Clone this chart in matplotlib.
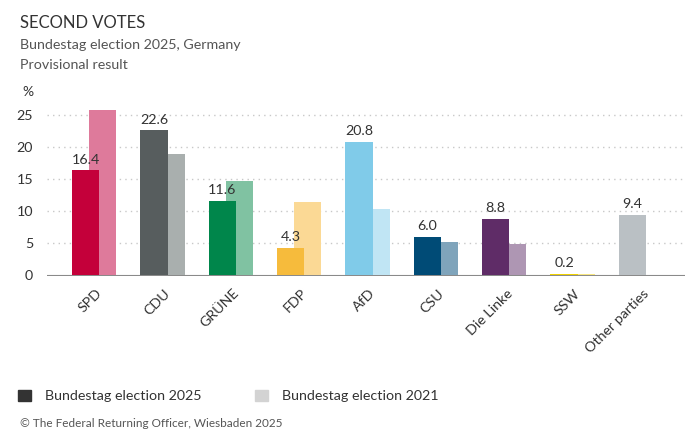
import matplotlib.pyplot as plt
import numpy as np

parties = ["SPD", "CDU", "GRÜNE", "FDP", "AfD", "CSU", "Die Linke", "SSW", "Other parties"]
votes_2025 = [16.4, 22.6, 11.6, 4.3, 20.8, 6.0, 8.8, 0.2, 9.4]
votes_2021 = [25.7, 18.9, 14.7, 11.4, 10.3, 5.2, 4.9, 0.1, np.nan]
colors_2025 = ["#c4003a", "#575d5e", "#00864b", "#f6bb3c", "#80cbe9", "#004b76", "#5f2c67", "#f0d200", "#bac0c4"]
colors_2021 = ["#de7a9b", "#a9afae", "#80c2a2", "#fbd995", "#c0e5f4", "#7fa4bb", "#ae96b3", "#f7e680", "#dcdfe1"]
yticks = [0, 5, 10, 15, 20, 25]

plt.rcParams['font.family'] = ['Lato', 'DejaVu Sans']
fig = plt.figure(figsize=(7, 4.45), dpi=100)
ax = fig.add_axes([47/700, 1 - 276/445, 638/700, 0.3763])

x = np.arange(len(parties))
w = 0.40
off = 0.25
ax.bar(x + off, votes_2021, w, color=colors_2021, zorder=2)
ax.bar(x, votes_2025, w, color=colors_2025, zorder=3)
for xi, v in zip(x, votes_2025):
    ax.text(xi, v + 0.7, f"{v:.1f}", ha='center', va='bottom', fontsize=10.3, color='#333333')

ax.set_xlim(-0.567, 8.77)
ax.set_ylim(-0.15, 26)
ax.set_yticks(yticks)
for t in yticks[1:]:
    ax.axhline(t, color='#c8c8c8', linestyle=(0, (1, 3)), linewidth=1, zorder=1)
ax.axhline(-0.15, color='#8a8a8a', linewidth=1.5, zorder=1.5)
for s in ax.spines.values():
    s.set_visible(False)
ax.tick_params(axis='both', length=0, labelsize=10.3, colors='#333333')
ax.tick_params(axis='y', pad=10)
ax.set_xticks(x + 0.15)
ax.set_xticklabels(parties, rotation=45, ha='right', rotation_mode='anchor')
ax.tick_params(axis='x', pad=8)

fig.text(20/700, 1 - 28/445, "SECOND VOTES", fontsize=12, color='#333333', va='baseline')
fig.text(20/700, 1 - 49/445, "Bundestag election 2025, Germany", fontsize=10.3, color='#555555', va='baseline')
fig.text(20/700, 1 - 69/445, "Provisional result", fontsize=10.3, color='#555555', va='baseline')
fig.text(22/700, 1 - 96/445, "%", fontsize=10, color='#333333', va='baseline')

fig.patches.append(plt.Rectangle((18/700, 1 - 401/445), 13/700, 11/445, transform=fig.transFigure, color='#333333'))
fig.text(45/700, 1 - 400/445, "Bundestag election 2025", fontsize=10.3, color='#333333', va='baseline')
fig.patches.append(plt.Rectangle((255/700, 1 - 401/445), 13/700, 11/445, transform=fig.transFigure, color='#d3d3d3'))
fig.text(282/700, 1 - 400/445, "Bundestag election 2021", fontsize=10.3, color='#333333', va='baseline')
fig.text(20/700, 1 - 427/445, "© The Federal Returning Officer, Wiesbaden 2025", fontsize=8.5, color='#555555', va='baseline')

fig.savefig("out.png", dpi=100)
